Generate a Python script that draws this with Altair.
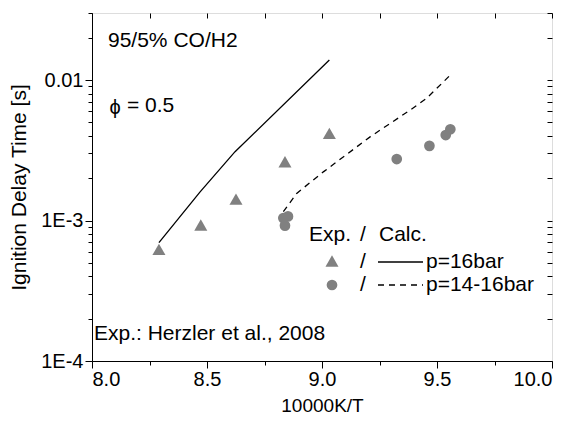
import altair as alt
import pandas as pd

# Experimental data (Herzler et al., 2008)
tri_x = [8.291, 8.473, 8.626, 8.839, 9.032]
tri_y = [6.24e-4, 9.29e-4, 1.42e-3, 2.62e-3, 4.17e-3]
circ_x = [8.832, 8.852, 8.839, 9.325, 9.467, 9.538, 9.558]
circ_y = [1.04e-3, 1.07e-3, 9.2e-4, 2.74e-3, 3.40e-3, 4.06e-3, 4.46e-3]
# Calculations
solid_x = [8.291, 8.47, 8.622, 9.032]
solid_y = [6.95e-4, 1.6e-3, 3.09e-3, 1.387e-2]
dash_x = [8.832, 8.890, 9.006, 9.209, 9.383, 9.455, 9.558]
dash_y = [1.156e-3, 1.56e-3, 2.22e-3, 3.94e-3, 6.11e-3, 7.41e-3, 1.086e-2]

x_ticks = [8.0, 8.25, 8.5, 8.75, 9.0, 9.25, 9.5, 9.75, 10.0]
y_ticks = [1e-4, 2e-4, 3e-4, 4e-4, 5e-4, 6e-4, 7e-4, 8e-4, 9e-4,
           1e-3, 2e-3, 3e-3, 4e-3, 5e-3, 6e-3, 7e-3, 8e-3, 9e-3,
           1e-2, 2e-2, 3e-2]

FONT = "Liberation Sans"
GRAY = "#808080"

tri = pd.DataFrame({"x": tri_x, "y": tri_y})
circ = pd.DataFrame({"x": circ_x, "y": circ_y})
solid = pd.DataFrame({"x": solid_x, "y": solid_y})
dash = pd.DataFrame({"x": dash_x, "y": dash_y})

xs = alt.Scale(domain=[8, 10], nice=False, zero=False)
ys = alt.Scale(type="log", domain=[1e-4, 0.03], nice=False)

X_MAJOR = "(datum.value * 2) % 1 == 0"
Y_MAJOR = "datum.value == 0.0001 || datum.value == 0.001 || datum.value == 0.01"

xax = alt.Axis(
    values=x_ticks,
    labelExpr="(datum.value * 2) % 1 == 0 ? format(datum.value, '.1f') : ''",
    title="10000K/T", titleFont=FONT, titleFontSize=19, titleFontWeight="normal",
    titlePadding=7, labelFont=FONT, labelFontSize=20, labelColor="black",
    tickSize={"condition": {"test": X_MAJOR, "value": 7}, "value": 4},
    tickColor="black", domainColor="black", grid=False, labelPadding=1,
)
yax = alt.Axis(
    values=y_ticks,
    labelExpr="datum.value == 0.0001 ? '1E-4' : datum.value == 0.001 ? '1E-3' : datum.value == 0.01 ? '0.01' : ''",
    title="Ignition Delay Time [s]", titleFont=FONT, titleFontSize=21, titleFontWeight="normal",
    titlePadding=11, labelFont=FONT, labelFontSize=20, labelColor="black",
    tickSize={"condition": {"test": Y_MAJOR, "value": 7}, "value": 4},
    tickColor="black", domainColor="black", grid=False, labelPadding=2,
)

base_x = alt.X("x:Q", scale=xs, axis=xax)
base_y = alt.Y("y:Q", scale=ys, axis=yax)

l_solid = alt.Chart(solid).mark_line(color="black", strokeWidth=1.3).encode(x=base_x, y=base_y)
l_dash = alt.Chart(dash).mark_line(color="black", strokeWidth=1.3, strokeDash=[6, 5]).encode(x=base_x, y=base_y)
p_tri = alt.Chart(tri).mark_point(shape="triangle-up", filled=True, color=GRAY, opacity=1, size=170).encode(x=base_x, y=base_y)
p_circ = alt.Chart(circ).mark_point(shape="circle", filled=True, color=GRAY, opacity=1, size=115).encode(x=base_x, y=base_y)

one = pd.DataFrame({"a": [0]})

def txt(s, x, y, size=21, align="left"):
    return alt.Chart(one).mark_text(text=s, font=FONT, fontSize=size, align=align,
                                    baseline="middle", color="black").encode(
        x=alt.value(x), y=alt.value(y))

annots = [
    txt("95/5% CO/H2", 16, 28),
    txt("\u03d5", 23, 95, size=20, align="center"),
    txt("= 0.5", 35, 93),
    txt("Exp.: Herzler et al., 2008", 2, 321),
    txt("Exp.", 217, 222),
    txt("/", 271, 222, align="center"),
    txt("Calc.", 287, 222),
    txt("/", 271, 249, align="center"),
    txt("p=16bar", 334, 249),
    txt("/", 271, 272, align="center"),
    txt("p=14-16bar", 334, 272),
]

leg_tri = alt.Chart(one).mark_point(shape="triangle-up", filled=True, color=GRAY, opacity=1, size=170).encode(
    x=alt.value(240), y=alt.value(248))
leg_circ = alt.Chart(one).mark_point(shape="circle", filled=True, color=GRAY, opacity=1, size=115).encode(
    x=alt.value(240), y=alt.value(272))
leg_solid = alt.Chart(one).mark_rule(color="black", strokeWidth=1.3).encode(
    x=alt.value(286), x2=alt.value(331), y=alt.value(249))
leg_dash = alt.Chart(one).mark_rule(color="black", strokeWidth=1.3, strokeDash=[6, 5]).encode(
    x=alt.value(286), x2=alt.value(331), y=alt.value(272))

main = alt.layer(
    l_solid, l_dash, p_tri, p_circ, leg_tri, leg_circ, leg_solid, leg_dash, *annots
)

# opposite-side axes with inward ticks (frame ticks as in the original)
xax_top = alt.Axis(orient="top", values=x_ticks, labels=False, domain=False, title=None,
                   grid=False, tickSize=5, offset=-5, tickColor="black")
yax_right = alt.Axis(orient="right", values=y_ticks, labels=False, domain=False, title=None,
                     grid=False, tickSize=5, offset=-5, tickColor="black")
frame = alt.Chart(tri).mark_point(opacity=0).encode(
    x=alt.X("x:Q", scale=alt.Scale(domain=[8, 10], nice=False, zero=False), axis=xax_top),
    y=alt.Y("y:Q", scale=alt.Scale(type="log", domain=[1e-4, 0.03], nice=False), axis=yax_right),
)

chart = alt.layer(main, frame).resolve_scale(
    x="independent", y="independent"
).properties(
    width=460, height=348,
    autosize=alt.AutoSizeParams(type="none"),
    padding={"left": 92, "top": 13, "right": 22, "bottom": 60},
).configure_view(
    stroke="black", strokeWidth=1.3
).configure(background="white")

chart.save("out.html", embed_options={"renderer": "svg", "actions": False})
